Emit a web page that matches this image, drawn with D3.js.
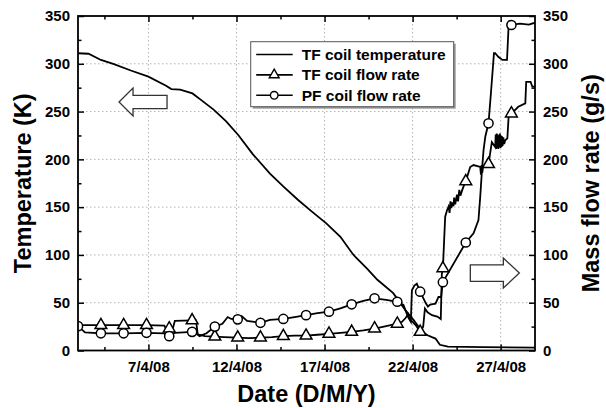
<!DOCTYPE html>
<html>
<head>
<meta charset="utf-8">
<script src="https://d3js.org/d3.v7.min.js"></script>
<style>
  body { margin: 0; background: #fff; }
  svg { display: block; font-family: "Liberation Sans", Arial, sans-serif; font-weight: bold; }
</style>
</head>
<body>
<div id="chart-area"></div>
<script>
  // x = day of April 2008, y = value
  var tempCurve = [[3.0,311],[3.6,310.5],[4.3,304],[5.0,300],[6.0,293],[7.0,286.5],[8.0,277],[8.3,273.5],[8.8,273],
    [9.5,269],[10.0,262],[10.7,252],[11.4,240],[12.1,225.5],[12.9,206],[13.9,185],[14.7,171],[15.5,157.5],
    [16.3,145],[17.1,133],[17.9,119],[18.6,101],[18.75,98],[19.4,86],[20.0,74],[20.9,60],[21.6,42],[22.05,32],
    [22.55,19.7],[22.85,16],[23.1,14],[23.3,12.5],[23.55,6],[24.0,4],[26.0,3.5],[28.95,3]];

  var tfFlowLine = [[3.0,26.5],[4.3,26.5],[5.59,26.5],[6.89,26.5],[7.9,26],[8.0,22.5],[8.18,23],[8.4,24],[8.5,31],
    [9.48,31.5],[9.7,31.5],[9.8,17],[10.2,15],[10.77,14.5],[11.3,14],[12.07,13.5],[12.7,13],[13.36,13.5],[14.0,14],
    [14.66,15],[15.3,15.5],[15.95,15.5],[16.6,16.5],[17.25,17.5],[17.9,18.5],[18.54,19.5],[19.2,21],[19.84,23],
    [20.5,25.5],[21.13,28],[21.4,30],[21.6,34],[21.75,38],[21.85,32],[22.0,30],[22.2,26],[22.43,19.5],[22.6,25],
    [22.7,44],[22.85,40],[23.1,37],[23.4,35.5],[23.6,33],[23.66,80],[23.72,86],[23.85,140],[23.95,146.5],
    [24.04,150.5],[24.1,144],[24.15,156],[24.2,149],[24.25,155],[24.32,151],[24.36,160],[24.42,153],[24.52,163],
    [24.58,156],[24.65,168],[24.72,162],[24.8,167],[24.9,172],[25.02,177],[25.27,192],[25.46,194],[25.84,192],
    [25.88,184],[25.92,194],[25.96,186],[26.0,193],[26.31,195],[26.5,218],
    [26.69,213],[26.72,226],[26.75,211],[26.78,227],[26.81,212],[26.84,226],[26.87,211],[26.9,225],[26.93,213],
    [26.96,227],[26.99,212],[27.02,225],[27.05,213],[27.08,224],[27.11,214],[27.15,223],[27.2,216],[27.26,220],
    [27.38,222],[27.45,244],[27.61,248],[28.0,255],[28.4,258.6],[28.45,281],[28.7,281],[28.8,276],[28.95,276]];
  var tfFlowMarks = [[4.3,26.5],[5.59,26.5],[6.89,26.5],[8.18,23],[9.48,31.5],[10.77,14.5],[12.07,13.5],[13.36,13.5],
    [14.66,15],[15.95,15.5],[17.25,17.5],[18.54,19.5],[19.84,23],[21.13,28],[22.43,19.5],[23.72,86],[25.02,177],
    [26.31,195],[27.61,248]];

  var pfFlowLine = [[3.0,25.5],[3.4,19],[4.3,18],[5.59,18],[6.89,18.5],[7.9,18],[8.0,15],[8.18,15],[8.5,18.5],
    [9.48,19.5],[9.7,18],[9.9,15],[10.3,18],[10.77,25],[11.2,28],[11.5,35],[11.7,33],[12.07,32.6],[12.3,36],
    [12.6,31],[13.36,29],[13.9,32],[14.66,33],[15.3,35],[15.95,37],[16.6,39],[17.25,40.6],[17.9,44],[18.54,48.3],
    [19.2,52],[19.84,54.6],[20.5,53],[21.13,51],[21.48,47.6],[21.73,35.4],[21.9,30],[21.96,63],[22.1,68],
    [22.24,70],[22.43,61.5],[22.75,49.4],[22.87,46],[23.0,48],[23.3,49],[23.47,56],[23.62,56],[23.7,70],
    [23.72,71.5],[25.02,113],[25.46,122.6],[25.74,136.5],[25.84,161],[25.94,189],[26.03,210],[26.13,224],
    [26.31,237.7],[26.45,270],[26.62,311],[26.69,311],[26.88,307],[27.1,304],[27.36,304],[27.45,339],
    [27.61,340.6],[28.1,342],[28.6,341],[28.95,343]];
  var pfFlowMarks = [[3.0,25.5],[4.3,18],[5.59,18],[6.89,18.5],[8.18,15],[9.48,19.5],[10.77,25],[12.07,32.6],
    [13.36,29],[14.66,33],[15.95,37],[17.25,40.6],[18.54,48.3],[19.84,54.6],[21.13,51],[22.43,61.5],[23.72,71.5],
    [25.02,113],[26.31,237.7],[27.61,340.6]];

  var xTicks = [7, 12, 17, 22, 27];
  var xMinorTicks = [4.5, 9.5, 14.5, 19.5, 24.5];
  var xTickLabels = ['7/4/08', '12/4/08', '17/4/08', '22/4/08', '27/4/08'];
  var yTicks = [0, 50, 100, 150, 200, 250, 300, 350];
  var yMinorTicks = [25, 75, 125, 175, 225, 275, 325];
  var legendLabels = ['TF coil temperature', 'TF coil flow rate', 'PF coil flow rate'];

  // Setting up the graph margin and scales
  var margin = {left: 78, right: 71, top: 16, bottom: 57.5};
  var width = 606 - margin.left - margin.right,
      height = 408 - margin.top - margin.bottom;

  var svg = d3.select('#chart-area')
      .append('svg')
      .attr('width', 606)
      .attr('height', 408);
  var g = svg.append('g')
      .attr('transform', 'translate(' + margin.left + ',' + margin.top + ')');

  var x = d3.scaleLinear().domain([3, 28.95]).range([0, width]);
  var y = d3.scaleLinear().domain([0, 350]).range([height, 0]);   // temperature (K)
  var y2 = d3.scaleLinear().domain([0, 350]).range([height, 0]);  // mass flow rate (g/s)

  g.append('clipPath').attr('id', 'plot-clip')
    .append('rect').attr('width', width).attr('height', height);

  // Grid lines
  g.append('g').selectAll('line').data(xTicks).enter().append('line')
      .attr('x1', function(d) { return x(d); }).attr('x2', function(d) { return x(d); })
      .attr('y1', 0).attr('y2', height)
      .attr('stroke', '#b4b4b4').attr('stroke-width', 1).attr('stroke-dasharray', '1.5,2.5');
  g.append('g').selectAll('line').data(yTicks.slice(1, -1)).enter().append('line')
      .attr('y1', function(d) { return y(d); }).attr('y2', function(d) { return y(d); })
      .attr('x1', 0).attr('x2', width)
      .attr('stroke', '#b4b4b4').attr('stroke-width', 1).attr('stroke-dasharray', '1.5,2.5');

  // Axes (ticks point inwards)
  function styleAxis(sel) {
    sel.select('.domain').remove();
    sel.attr('font-size', 15).attr('font-family', '"Liberation Sans", Arial, sans-serif')
       .attr('font-weight', 'bold');
    sel.selectAll('line').attr('stroke', '#000').attr('stroke-width', 1.5);
    sel.selectAll('text').attr('fill', '#000');
  }
  g.append('g').attr('transform', 'translate(0,' + height + ')')
      .call(d3.axisBottom(x).tickValues(xTicks).tickSize(-6).tickPadding(11)
        .tickFormat(function(d, i) { return xTickLabels[i]; }))
      .call(styleAxis);
  g.append('g').attr('transform', 'translate(0,' + height + ')')
      .call(d3.axisBottom(x).tickValues(xMinorTicks).tickSize(-3.5).tickFormat(''))
      .call(styleAxis);
  g.append('g')
      .call(d3.axisTop(x).tickValues(xTicks).tickSize(-6).tickFormat(''))
      .call(styleAxis);
  g.append('g')
      .call(d3.axisTop(x).tickValues(xMinorTicks).tickSize(-3.5).tickFormat(''))
      .call(styleAxis);
  g.append('g')
      .call(d3.axisLeft(y).tickValues(yTicks).tickSize(-6).tickPadding(8))
      .call(styleAxis);
  g.append('g')
      .call(d3.axisLeft(y).tickValues(yMinorTicks).tickSize(-3.5).tickFormat(''))
      .call(styleAxis);
  g.append('g').attr('transform', 'translate(' + width + ',0)')
      .call(d3.axisRight(y2).tickValues(yTicks).tickSize(-6).tickPadding(8))
      .call(styleAxis);
  g.append('g').attr('transform', 'translate(' + width + ',0)')
      .call(d3.axisRight(y2).tickValues(yMinorTicks).tickSize(-3.5).tickFormat(''))
      .call(styleAxis);

  // Lines
  var plot = g.append('g').attr('clip-path', 'url(#plot-clip)');
  var tempLine = d3.line()
      .x(function(d) { return x(d[0]); })
      .y(function(d) { return y(d[1]); });
  var flowLine = d3.line()
      .x(function(d) { return x(d[0]); })
      .y(function(d) { return y2(d[1]); });

  plot.append('path').attr('d', tempLine(tempCurve))
      .attr('fill', 'none').attr('stroke', '#000').attr('stroke-width', 1.8);
  plot.append('path').attr('d', flowLine(tfFlowLine))
      .attr('fill', 'none').attr('stroke', '#000').attr('stroke-width', 1.8);
  plot.append('path').attr('d', flowLine(pfFlowLine))
      .attr('fill', 'none').attr('stroke', '#000').attr('stroke-width', 1.8);

  // Markers
  var triangle = d3.symbol().type(d3.symbolTriangle).size(60);
  plot.append('g').selectAll('path').data(tfFlowMarks).enter().append('path')
      .attr('d', triangle)
      .attr('transform', function(d) { return 'translate(' + x(d[0]) + ',' + y2(d[1]) + ')'; })
      .attr('fill', '#fff').attr('stroke', '#000').attr('stroke-width', 1.5);
  plot.append('g').selectAll('circle').data(pfFlowMarks).enter().append('circle')
      .attr('cx', function(d) { return x(d[0]); })
      .attr('cy', function(d) { return y2(d[1]); })
      .attr('r', 4.6)
      .attr('fill', '#fff').attr('stroke', '#000').attr('stroke-width', 1.5);

  // Frame
  g.append('rect').attr('width', width).attr('height', height)
      .attr('fill', 'none').attr('stroke', '#000').attr('stroke-width', 1.8);

  // Hollow arrows showing which axis each group belongs to
  function arrow(tipX, tipY, dir, len, headLen, headHalf, bodyHalf) {
    var pts = [[0, 0], [headLen, -headHalf], [headLen, -bodyHalf], [len, -bodyHalf],
               [len, bodyHalf], [headLen, bodyHalf], [headLen, headHalf]];
    g.append('polygon')
      .attr('points', pts.map(function(p) { return (tipX + dir * p[0]) + ',' + (tipY + p[1]); }).join(' '))
      .attr('fill', '#fff').attr('stroke', '#333').attr('stroke-width', 1.3);
  }
  arrow(x(5.33), y(260), 1, 48, 14, 14, 6.7);
  arrow(x(28.06), y2(81), -1, 49, 16, 15, 8.3);

  // Axis titles
  g.append('text')
      .attr('x', width / 2).attr('y', height + 51)
      .attr('text-anchor', 'middle').attr('font-size', '23.5px')
      .text('Date (D/M/Y)');
  g.append('text')
      .attr('transform', 'translate(' + (-47) + ',' + (height / 2) + ') rotate(-90)')
      .attr('text-anchor', 'middle').attr('font-size', '23.5px')
      .text('Temperature (K)');
  g.append('text')
      .attr('transform', 'translate(' + (width + 64) + ',' + (height / 2) + ') rotate(-90)')
      .attr('text-anchor', 'middle').attr('font-size', '23.5px')
      .text('Mass flow rate (g/s)');

  // Legend
  var legend = g.append('g').attr('transform', 'translate(' + (250.7 - margin.left) + ',' + (41.7 - margin.top) + ')');
  legend.append('rect').attr('x', 2).attr('y', 2).attr('width', 203).attr('height', 65).attr('fill', '#9a9a9a');
  legend.append('rect').attr('width', 203).attr('height', 65)
      .attr('fill', '#fff').attr('stroke', '#555').attr('stroke-width', 1);
  legendLabels.forEach(function(label, i) {
    var row = legend.append('g').attr('transform', 'translate(0,' + (12.8 + i * 20.4) + ')');
    row.append('line').attr('x1', 5.5).attr('x2', 42).attr('stroke', '#000').attr('stroke-width', 1.6);
    if (i === 1) {
      row.append('path').attr('d', d3.symbol().type(d3.symbolTriangle).size(42)())
        .attr('transform', 'translate(23.5,0)')
        .attr('fill', '#fff').attr('stroke', '#000').attr('stroke-width', 1.4);
    }
    if (i === 2) {
      row.append('circle').attr('cx', 23.5).attr('r', 3.8)
        .attr('fill', '#fff').attr('stroke', '#000').attr('stroke-width', 1.4);
    }
    row.append('text').attr('x', 51).attr('dy', '0.36em')
        .attr('font-size', '15.5px').text(label);
  });
</script>
</body>
</html>
